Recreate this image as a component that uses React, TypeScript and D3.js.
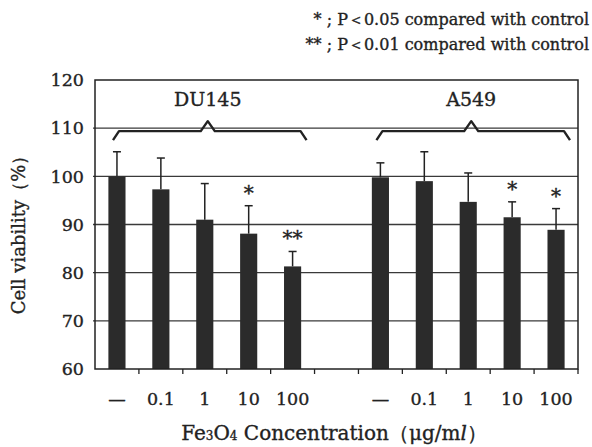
import React, { useEffect, useRef } from "react";
import * as d3 from "d3";

// concentrations of Fe3O4 (ug/ml), "—" = control
const concentrations = ["—", "0.1", "1", "10", "100"];
const cellLines = ["DU145", "A549"];

// cell viability (%)
const du145Mean = [100, 97.3, 91.0, 88.1, 81.3];
const du145Sd = [5.1, 6.5, 7.5, 5.8, 3.1];
const du145Sig = ["", "", "", "*", "**"];

const a549Mean = [99.8, 99.0, 94.7, 91.5, 88.9];
const a549Sd = [3.0, 6.1, 6.0, 3.2, 4.4];
const a549Sig = ["", "", "", "*", "*"];

const yTicks = [60, 70, 80, 90, 100, 110, 120];
const legendLines = [
  "* ; P\uff1c0.05 compared with control",
  "** ; P\uff1c0.01 compared with control",
];

function App() {
  const svgRef = useRef<SVGSVGElement>(null);

  useEffect(() => {
    const w = 592;
    const h = 447;
    const font = "'DejaVu Serif', serif";
    const ink = "#222";

    const svg = d3.select(svgRef.current).attr("width", w).attr("height", h);
    svg.selectAll("*").remove();
    svg.append("rect").attr("width", w).attr("height", h).attr("fill", "#fff");

    // 11 slots: 5 DU145, one empty gap, 5 A549
    const slots = d3.range(11);
    const x = d3.scaleBand<number>().domain(slots).range([95, 578]).padding(0);
    const y = d3.scaleLinear().domain([60, 120]).range([369, 80]);
    const bw = x.bandwidth();
    const barW = bw * 0.39;

    const groups = [
      { name: cellLines[0], start: 0, mean: du145Mean, sd: du145Sd, sig: du145Sig },
      { name: cellLines[1], start: 6, mean: a549Mean, sd: a549Sd, sig: a549Sig },
    ];
    const rows = groups.flatMap((g) =>
      g.mean.map((m, i) => ({ slot: g.start + i, mean: m, sd: g.sd[i], sig: g.sig[i], label: concentrations[i] }))
    );

    const [x0, x1] = x.range();

    // make the serif text a bit heavier, like the printed figure
    const heavy = (sel: any) => sel.attr("stroke", ink).attr("stroke-width", 0.35);

    // gridlines
    svg
      .append("g")
      .selectAll("line")
      .data(yTicks.filter((t) => t > 60 && t < 120))
      .join("line")
      .attr("x1", x0 - 2)
      .attr("x2", x1)
      .attr("y1", (d) => y(d))
      .attr("y2", (d) => y(d))
      .attr("stroke", "#3a3a3a")
      .attr("stroke-width", 1.3);

    // bars
    svg
      .append("g")
      .selectAll("rect")
      .data(rows)
      .join("rect")
      .attr("x", (d) => x(d.slot)! + (bw - barW) / 2)
      .attr("y", (d) => y(d.mean))
      .attr("width", barW)
      .attr("height", (d) => y(60) - y(d.mean))
      .attr("fill", "#2b2b2b");

    // error bars (upper half only)
    const eb = svg.append("g").attr("stroke", ink).attr("stroke-width", 1.5);
    rows.forEach((d) => {
      const cx = x(d.slot)! + bw / 2;
      eb.append("line").attr("x1", cx).attr("x2", cx).attr("y1", y(d.mean)).attr("y2", y(d.mean + d.sd));
      eb.append("line").attr("x1", cx - 4).attr("x2", cx + 4).attr("y1", y(d.mean + d.sd)).attr("y2", y(d.mean + d.sd));
    });

    // significance stars
    svg
      .append("g")
      .selectAll("text")
      .data(rows.filter((d) => d.sig))
      .join("text")
      .attr("x", (d) => x(d.slot)! + bw / 2)
      .attr("y", (d) => y(d.mean + d.sd) - 6)
      .attr("text-anchor", "middle")
      .attr("font-family", font)
      .attr("font-size", 20)
      .attr("fill", ink)
      .call(heavy)
      .text((d) => d.sig);

    // frame
    svg
      .append("rect")
      .attr("x", x0)
      .attr("y", y(120))
      .attr("width", x1 - x0)
      .attr("height", y(60) - y(120))
      .attr("fill", "none")
      .attr("stroke", ink)
      .attr("stroke-width", 1.5);

    // x ticks at slot ends
    svg
      .append("g")
      .selectAll("line")
      .data(slots)
      .join("line")
      .attr("x1", (d) => x(d)! + bw)
      .attr("x2", (d) => x(d)! + bw)
      .attr("y1", y(60))
      .attr("y2", y(60) + 5)
      .attr("stroke", ink)
      .attr("stroke-width", 1.3);

    // y tick labels
    svg
      .append("g")
      .selectAll("text")
      .data(yTicks)
      .join("text")
      .attr("x", 84)
      .attr("y", (d) => y(d))
      .attr("dy", "0.36em")
      .attr("text-anchor", "end")
      .attr("font-family", font)
      .attr("font-size", 17.5)
      .attr("fill", ink)
      .call(heavy)
      .text((d) => d);

    // x tick labels
    svg
      .append("g")
      .selectAll("text")
      .data(rows)
      .join("text")
      .attr("x", (d) => x(d.slot)! + bw / 2)
      .attr("y", 405)
      .attr("text-anchor", "middle")
      .attr("font-family", font)
      .attr("font-size", 17.5)
      .attr("fill", ink)
      .call(heavy)
      .text((d) => d.label);

    // braces + cell line names
    const yb = y(110) + 3;
    groups.forEach((g) => {
      const left = x(g.start)! + 18;
      const right = x(g.start + g.mean.length - 1)! + bw - 8;
      const mid = (x(g.start)! + x(g.start + g.mean.length - 1)! + bw) / 2 + 3;
      const path = d3.path();
      path.moveTo(left, yb + 9);
      path.lineTo(left + 6, yb);
      path.lineTo(mid - 7, yb);
      path.lineTo(mid, yb - 10);
      path.lineTo(mid + 7, yb);
      path.lineTo(right - 6, yb);
      path.lineTo(right, yb + 9);
      svg
        .append("path")
        .attr("d", path.toString())
        .attr("fill", "none")
        .attr("stroke", ink)
        .attr("stroke-width", 2.4)
        .attr("stroke-linejoin", "round");
      svg
        .append("text")
        .attr("x", mid)
        .attr("y", 106)
        .attr("text-anchor", "middle")
        .attr("font-family", font)
        .attr("font-size", 19)
        .attr("fill", ink)
        .call(heavy)
        .text(g.name);
    });

    // y axis title
    svg
      .append("text")
      .attr("transform", `translate(25, ${(y(60) + y(120)) / 2 + 6}) rotate(-90)`)
      .attr("text-anchor", "middle")
      .attr("font-family", font)
      .attr("font-size", 18)
      .attr("fill", ink)
      .call(heavy)
      .text("Cell viability\uff08%\uff09");

    // x axis title
    const xt = svg
      .append("text")
      .attr("x", 334)
      .attr("y", 440)
      .attr("text-anchor", "middle")
      .attr("font-family", font)
      .attr("font-size", 20)
      .attr("fill", ink)
      .call(heavy);
    xt.append("tspan").text("Fe");
    xt.append("tspan").attr("font-size", 12).text("3");
    xt.append("tspan").text("O");
    xt.append("tspan").attr("font-size", 12).text("4");
    xt.append("tspan").text(" Concentration\uff08\u03bcg/m");
    xt.append("tspan").attr("font-style", "italic").text("l");
    xt.append("tspan").text("\uff09");

    // legend
    svg
      .append("g")
      .selectAll("text")
      .data(legendLines)
      .join("text")
      .attr("x", 589)
      .attr("y", (d, i) => 25 + i * 25)
      .attr("text-anchor", "end")
      .attr("font-family", font)
      .attr("font-size", 16)
      .attr("fill", ink)
      .call(heavy)
      .text((d) => d);
  }, []);

  return <svg ref={svgRef} style={{ position: "absolute", left: 0, top: 0 }}></svg>;
}

export default App;
